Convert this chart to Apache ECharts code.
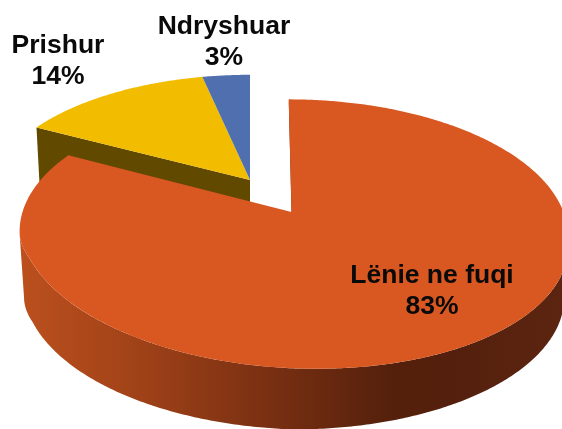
<!DOCTYPE html>
<html>
<head>
<meta charset="utf-8">
<style>html,body{margin:0;padding:0;background:#fff}#c{width:562px;height:429px}</style>
<script src="https://cdn.jsdelivr.net/npm/echarts@6/dist/echarts.min.js"></script>
</head>
<body>
<div id="c"></div>
<script>
const categories = ['Lënie ne fuqi', 'Prishur', 'Ndryshuar'];
const shares = [82.7, 13.9, 3.4];
const topColors = ['#D95821', '#F2BD00', '#506FAE'];
const cutColors = ['#5A2410', '#614A00', '#506FAE'];

const total = shares.reduce((a, b) => a + b, 0);
const wallStops = [
  { offset: 0, color: '#BC501E' },
  { offset: 0.2, color: '#A24318' },
  { offset: 0.45, color: '#7A3012' },
  { offset: 0.68, color: '#54200C' },
  { offset: 0.8, color: '#54200D' },
  { offset: 1, color: '#5C2510' }
];
// Projection of each slice's disc: the big slice is pulled away from the other two.
const discs = [
  { cx: 291.5, cy: 212, R: 270.5, Rv: 131, k: 0.163, skew: 5, depth: 64, shrink: 0.985, skewLow: 0.5, lowV: 0.98,
    rimShift: 1.5, rimShiftLow: 2.5, sag: { tL: 10, tR: 10, mid: 234, h: 135 }, sagLow: { tL: 9, tR: 0, mid: 298, h: 132 }, z: 10 },
  { cx: 250, cy: 180, R: 258, Rv: 121, k: 0.15, skew: 0, depth: 60, shrink: 0.985, skewLow: 0, lowV: 0.995,
    rimShift: 0, rimShiftLow: 0, z: 1 },
  { cx: 250, cy: 180, R: 258, Rv: 121, k: 0.15, skew: 0, depth: 60, shrink: 0.985, skewLow: 0, lowV: 0.995,
    rimShift: 0, rimShiftLow: 0, z: 2 }
];
const labelSpots = [[432, 276], [58, 46], [224, 27]];
const LINE_GAP = 31;

function project(d, angle, radius, low) {
  const u = Math.sin(angle) * radius, v = -Math.cos(angle) * radius;
  const w = 1 - d.k * v;
  const sc = low ? d.shrink : 1;
  const sk = low ? d.skewLow : d.skew;
  const x = d.cx + (u * d.R * sc + sk * v) / w + (low ? d.rimShiftLow : d.rimShift) * radius;
  let y = d.cy + (low ? d.depth : 0) + (v * d.Rv * (low ? d.lowV : 1)) / w;
  const sag = low ? d.sagLow : d.sag;
  if (sag) {
    const front = Math.min(1, Math.max(0, (y - sag.mid) / sag.h) / 0.25);
    y += (u < 0 ? sag.tL : sag.tR) * u * front;
  }
  return [x, y];
}
function rim(d, a0, a1, low) {
  const n = Math.max(2, Math.ceil((a1 - a0) / 0.01));
  const pts = [];
  for (let j = 0; j <= n; j++) pts.push(project(d, a0 + (a1 - a0) * j / n, 1, low));
  return pts;
}

function renderSlice(params, api) {
  const i = params.dataIndex;
  const before = shares.slice(0, i).reduce((a, b) => a + b, 0);
  const a0 = before / total * Math.PI * 2;
  const a1 = (before + api.value(0)) / total * Math.PI * 2;
  const d = discs[i];
  const tipTop = project(d, 0, 0, false), tipLow = project(d, 0, 0, true);
  const children = [];
  // outer wall: only the part of the rim that faces the viewer, between the widest points
  const frontA = Math.acos(-d.k), frontB = Math.PI * 2 - frontA;
  const w0 = Math.max(a0, frontA), w1 = Math.min(a1, frontB);
  if (w1 > w0) {
    children.push({
      type: 'polygon', z2: d.z,
      shape: { points: rim(d, w0, w1, false).concat(rim(d, w0, w1, true).reverse()) },
      style: { fill: { type: 'linear', x: 0, y: 0, x2: 1, y2: 0, colorStops: wallStops } }
    });
  }
  // cut face on the leading edge of the orange and yellow slices
  if (i < 2) {
    children.push({
      type: 'polygon', z2: d.z + 1,
      shape: { points: [project(d, a0, 1, false), tipTop, tipLow, project(d, a0, 1, true)] },
      style: { fill: cutColors[i] }
    });
  }
  // top face
  children.push({
    type: 'polygon', z2: d.z + 3,
    shape: { points: [tipTop].concat(rim(d, a0, a1, false)) },
    style: { fill: topColors[i] }
  });
  // label
  children.push({
    type: 'text', z2: 30,
    style: {
      x: labelSpots[i][0], y: labelSpots[i][1] + LINE_GAP / 2,
      text: categories[i] + '\n' + Math.round(api.value(0)) + '%',
      fill: '#0a0a0a', align: 'center', verticalAlign: 'middle',
      font: 'bold 26.5px "Liberation Sans", Arial, sans-serif',
      lineHeight: LINE_GAP
    }
  });
  return { type: 'group', children };
}

const chart = echarts.init(document.getElementById('c'), null, { renderer: 'canvas' });
chart.setOption({
  animation: false,
  backgroundColor: '#ffffff',
  series: [{
    type: 'custom',
    coordinateSystem: 'none',
    renderItem: renderSlice,
    data: shares.map((s, i) => ({ name: categories[i], value: [s] })),
    clip: false,
    silent: true
  }]
});
</script>
</body>
</html>
